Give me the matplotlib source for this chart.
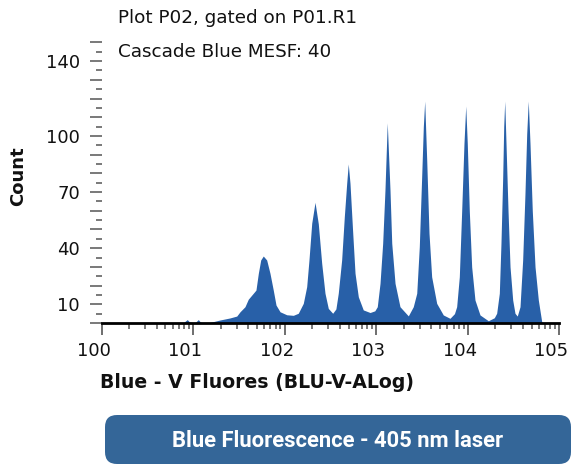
import numpy as np
import matplotlib
matplotlib.use("Agg")
import matplotlib.pyplot as plt
from matplotlib.patches import FancyBboxPatch
from matplotlib.ticker import FixedLocator, FixedFormatter, NullFormatter
from matplotlib.transforms import ScaledTranslation

# ---- data ----
# channel position in decades (log10 of fluorescence), and event count
log_channel = [0.000, 0.895, 0.915, 0.937, 0.960, 1.025, 1.035, 1.057, 1.080, 1.120,
               1.185, 1.294, 1.403, 1.477, 1.513, 1.567, 1.603, 1.658, 1.687,
               1.713, 1.739, 1.767, 1.804, 1.840, 1.876, 1.906, 1.950, 2.023,
               2.095, 2.149, 2.204, 2.241, 2.266, 2.296, 2.332, 2.368, 2.405,
               2.441, 2.477, 2.525, 2.560, 2.586, 2.623, 2.652, 2.678, 2.695, 2.714,
               2.744, 2.769, 2.805, 2.859, 2.933, 2.985, 3.012, 3.042, 3.071, 3.096,
               3.121, 3.151, 3.170, 3.206, 3.260, 3.351, 3.405, 3.443, 3.471,
               3.497, 3.515, 3.530, 3.552, 3.577, 3.606, 3.661, 3.733, 3.806,
               3.855, 3.879, 3.908, 3.934, 3.959, 3.978, 3.995, 4.017, 4.043, 4.079,
               4.134, 4.225, 4.290, 4.316, 4.345, 4.363, 4.382, 4.393, 4.404, 4.418,
               4.440, 4.462, 4.491, 4.516, 4.541, 4.571, 4.600, 4.625, 4.644,
               4.661, 4.680, 4.705, 4.735, 4.771, 4.808, 4.819, 5.000]
counts = [0.0, 0.0, 1.0, 1.8, 0.6, 0.0, 0.8, 1.8, 0.5, 0.0,
          0.3, 1.6, 2.7, 3.7, 6.0, 8.7, 12.7, 15.9, 17.6,
          26.6, 33.7, 35.8, 33.7, 26.6, 17.6, 9.6, 6.0, 4.4,
          4.1, 5.2, 10.5, 19.4, 33.7, 53.3, 64.5, 53.0, 31.9,
          15.9, 7.8, 5.2, 7.5, 15.9, 33.7, 56.8, 74.7, 85.0, 74.7,
          48.0, 26.6, 14.0, 7.0, 5.6, 6.5, 8.7, 21.2, 42.6, 71.0,
          107.0, 71.0, 42.6, 21.2, 8.7, 3.8, 8.7, 15.9, 40.8,
          78.2, 105.0, 118.6, 87.0, 48.0, 24.7, 10.5, 4.3, 2.5,
          5.0, 8.7, 24.7, 60.0, 96.0, 116.0, 96.0, 60.0, 30.0, 12.3,
          4.3, 1.2, 2.8, 5.2, 15.9, 42.6, 78.2, 105.0, 118.6, 96.0,
          60.0, 30.0, 12.3, 5.2, 3.7, 8.7, 33.7, 69.0, 101.0,
          118.6, 96.0, 60.0, 30.0, 12.3, 0.7, 0.0, 0.0]

x_decades = [0, 1, 2, 3, 4, 5]
x_tick_labels = ["100", "101", "102", "103", "104", "105"]
y_major = list(range(0, 151, 10))
y_labelled = {10: "10", 40: "40", 70: "70", 100: "100", 140: "140"}

title_lines = ["Plot P02, gated on P01.R1", "Cascade Blue MESF: 40"]
x_label = "Blue - V Fluores (BLU-V-ALog)"
y_label = "Count"
banner_text = "Blue Fluorescence - 405 nm laser"

FILL = "#2860a8"
BANNER = "#346698"

plt.rcParams["font.family"] = ["DejaVu Sans"]

W, H = 572, 466
fig = plt.figure(figsize=(W / 100, H / 100), dpi=100)

def fx(px):
    return px / W

def fy(py):
    return 1 - py / H

ax = fig.add_axes([fx(101.5), fy(323), fx(559.3) - fx(101.5), fy(42.4) - fy(323)])

x = np.power(10.0, np.array(log_channel))
ax.fill_between(x, counts, 0, color=FILL, linewidth=0)

ax.set_xscale("log")
ax.set_xlim(10 ** x_decades[0], 10 ** x_decades[-1])
ax.set_ylim(0, 150)

# x ticks
ax.xaxis.set_major_locator(FixedLocator([10.0 ** d for d in x_decades]))
ax.xaxis.set_major_formatter(FixedFormatter(x_tick_labels))
minor_x = [k * 10.0 ** d for d in x_decades[:-1] for k in range(2, 10)]
ax.xaxis.set_minor_locator(FixedLocator(minor_x))
ax.xaxis.set_minor_formatter(NullFormatter())

# y ticks
ax.yaxis.set_major_locator(FixedLocator(y_major))
ax.yaxis.set_major_formatter(FixedFormatter([y_labelled.get(v, "") for v in y_major]))
ax.yaxis.set_minor_locator(FixedLocator([v + 5 for v in y_major[:-1]]))

tick_col = "#555555"
ax.tick_params(axis="x", which="major", direction="out", length=8.6, width=1.2,
               color=tick_col, labelsize=13, pad=5, labelcolor="#111111")
ax.tick_params(axis="x", which="minor", direction="out", length=4.6, width=1.1,
               color=tick_col)
ax.tick_params(axis="y", which="major", direction="out", length=8.6, width=1.1,
               color=tick_col, labelsize=13, pad=7, labelcolor="#111111")
ax.tick_params(axis="y", which="minor", direction="out", length=4.3, width=1.1,
               color=tick_col)

shift = ScaledTranslation(-8 / 100, 0, fig.dpi_scale_trans)
for lbl in ax.get_xticklabels():
    lbl.set_transform(lbl.get_transform() + shift)

for s in ["top", "right", "left"]:
    ax.spines[s].set_visible(False)
ax.spines["bottom"].set_linewidth(2.0)
ax.spines["bottom"].set_color("black")
ax.patch.set_alpha(0)

# texts
fig.text(fx(118), fy(18), title_lines[0], fontsize=13.2, ha="left", va="center", color="#111111")
fig.text(fx(118), fy(52), title_lines[1], fontsize=13.2, ha="left", va="center", color="#111111")
fig.text(fx(18), fy(176), y_label, fontsize=13, fontweight="bold", rotation=90,
         ha="center", va="center", color="#111111")
fig.text(fx(257), fy(383), x_label, fontsize=13.6, fontweight="bold",
         ha="center", va="center", color="#111111")

# banner
bx0, by0, bx1, by1 = 105, 415, 571, 464
box = FancyBboxPatch((fx(bx0), fy(by1)), fx(bx1) - fx(bx0), fy(by0) - fy(by1),
                     boxstyle="round,pad=0,rounding_size=0.021",
                     transform=fig.transFigure, facecolor=BANNER, edgecolor="none",
                     mutation_aspect=W / H)
fig.patches.append(box)
fig.text(fx(338), fy(441), banner_text, fontsize=15.8, fontweight="bold",
         family=["Roboto", "DejaVu Sans"],
         ha="center", va="center", color="white")

fig.savefig("out.png", dpi=100)
